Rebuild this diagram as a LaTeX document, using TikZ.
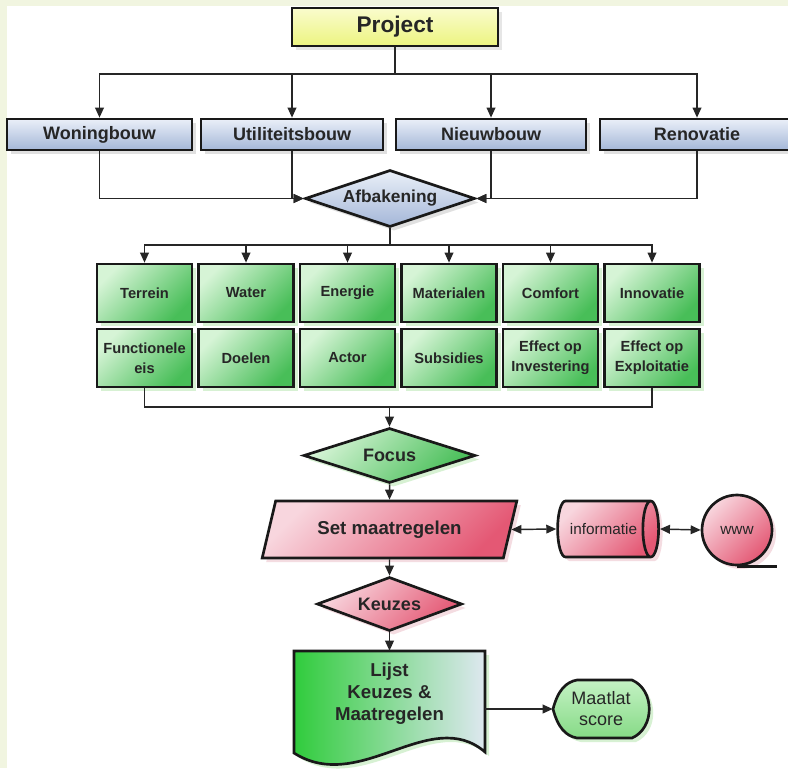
\documentclass[tikz,border=0pt]{standalone}
\usepackage{fontspec}
\setmainfont{Liberation Sans}
\usetikzlibrary{shapes.geometric,arrows.meta,shadows}

\definecolor{band}{RGB}{241,245,224}
\definecolor{projtop}{RGB}{250,252,205}
\definecolor{projbot}{RGB}{236,244,128}
\definecolor{bluetop}{RGB}{234,239,248}
\definecolor{bluebot}{RGB}{164,183,216}
\definecolor{greentop}{RGB}{214,244,214}
\definecolor{greenbot}{RGB}{72,190,88}
\definecolor{greenglow}{RGB}{205,238,200}
\definecolor{pinktop}{RGB}{248,214,222}
\definecolor{pinkbot}{RGB}{228,88,116}
\definecolor{pinkglow}{RGB}{242,212,218}
\definecolor{docgreen}{RGB}{48,204,60}
\definecolor{docpale}{RGB}{222,232,240}
\definecolor{scoretop}{RGB}{196,242,196}
\definecolor{scorebot}{RGB}{134,218,134}

\begin{document}
\begin{tikzpicture}[x=0.75pt, y=-0.75pt,
    box/.style={draw=black!90, line width=2pt, inner sep=0pt, align=center,
      text=black!85, font=\bfseries},
    glow/.style={drop shadow={shadow xshift=3pt, shadow yshift=-3pt,
      fill=#1, opacity=.8}},
    bluebox/.style={box, minimum height=23.25pt, top color=bluetop,
      bottom color=bluebot, glow=black!15,
      font=\bfseries\fontsize{13.5}{16}\selectfont},
    greenbox/.style={box, minimum width=71.25pt, minimum height=43.5pt,
      top color=greentop, bottom color=greenbot, shading angle=45,
      glow=greenglow, font=\bfseries\fontsize{11}{15}\selectfont},
    pinkfill/.style={top color=pinktop, bottom color=pinkbot,
      shading angle=45, glow=pinkglow},
    choice/.style={box, diamond, aspect=3},
    link/.style={line width=1.1pt, black!85},
    arrow/.style={link, -{Triangle[length=7.5pt, width=6.5pt]}},
    twoway/.style={link, {Triangle[length=7.5pt, width=6.5pt]}-{Triangle[length=7.5pt, width=6.5pt]}}
  ]
  \useasboundingbox (0,0) rectangle (788,768);
  \fill[band] (0,0) rectangle (788,768);
  \fill[white] (7,6) rectangle (788,768);

  % top of the tree
  \node[box, minimum width=154.5pt, minimum height=28.5pt, top color=projtop,
    bottom color=projbot, glow=black!12,
    font=\bfseries\fontsize{17}{20}\selectfont] (project) at (395,27) {Project};

  \node[bluebox, minimum width=138.75pt] (woning) at (99.5,134.5) {Woningbouw};
  \node[bluebox, minimum width=136.5pt] (util) at (292,134.5) {Utiliteitsbouw};
  \node[bluebox, minimum width=142.5pt] (nieuw) at (491,134.5) {Nieuwbouw};
  \node[bluebox, minimum width=145.5pt] (renov) at (697,134.5) {Renovatie};

  \node[choice, minimum width=127.5pt, minimum height=42.75pt, top color=bluetop,
    bottom color=bluebot, glow=black!15,
    font=\bfseries\fontsize{13}{15}\selectfont] (afb) at (390,198.5) {Afbakening};

  % themes
  \node[greenbox] (terrein) at (144.5,293) {Terrein};
  \node[greenbox] (water) at (246,293) {Water};
  \node[greenbox] (energie) at (347.5,293) {Energie};
  \node[greenbox] (materialen) at (449,293) {Materialen};
  \node[greenbox] (comfort) at (550.5,293) {Comfort};
  \node[greenbox] (innovatie) at (652,293) {Innovatie};
  \node[greenbox] (functioneel) at (144.5,358) {Functionele\\eis};
  \node[greenbox] (doelen) at (246,358) {Doelen};
  \node[greenbox] (actor) at (347.5,358) {Actor};
  \node[greenbox] (subsidies) at (449,358) {Subsidies};
  \node[greenbox] (investering) at (550.5,358) {Effect op\\Investering};
  \node[greenbox] (exploitatie) at (652,358) {Effect op\\Exploitatie};

  \node[choice, minimum width=129pt, minimum height=41.25pt, top color=greentop,
    bottom color=greenbot, shading angle=45, glow=greenglow,
    font=\bfseries\fontsize{13.5}{16}\selectfont] (focus) at (389.5,455.5) {Focus};

  % measures
  \node[box, trapezium, trapezium left angle=64, trapezium right angle=116,
    trapezium stretches, minimum width=191.25pt, minimum height=42.75pt, pinkfill,
    font=\bfseries\fontsize{14}{16}\selectfont] (set) at (389.5,529.5) {Set maatregelen};
  \node[box, cylinder, shape aspect=1.4, minimum width=42pt, minimum height=75.75pt,
    pinkfill, font=\fontsize{11.5}{14}\selectfont] (info) at (603.5,529) {informatie};
  \node[box, circle, minimum size=52.5pt, pinkfill,
    font=\fontsize{11.5}{14}\selectfont] (www) at (737,530) {www};
  \coordinate (tape) at (777,565);

  \node[choice, minimum width=108.75pt, minimum height=40.5pt, pinkfill,
    font=\bfseries\fontsize{13.5}{16}\selectfont] (keuzes) at (389.5,604) {Keuzes};

  % list and score
  \draw[line width=2pt, draw=black!90, left color=docgreen, right color=docpale,
    glow=greenglow] (294,651) -- (485,651) -- (485,752)
    .. controls (430,705) and (360,795) .. (294,753) -- cycle;
  \node[align=center, text=black!85, minimum width=143.25pt, minimum height=64.5pt,
    font=\bfseries\fontsize{14}{16.5}\selectfont] (lijst) at (389.5,694)
    {Lijst\\Keuzes \&\\Maatregelen};

  \draw[line width=2pt, draw=black!90, top color=scoretop, bottom color=scorebot,
    glow=greenglow] (553,709) .. controls (558,690) and (566,682) .. (577,680)
    -- (632,680) .. controls (655,690) and (655,728) .. (632,738)
    -- (577,738) .. controls (566,736) and (558,728) .. (553,709) -- cycle;
  \node[align=center, text=black!85, minimum width=72pt, minimum height=43.5pt,
    inner sep=0pt, font=\fontsize{13.5}{15.75}\selectfont] (score) at (601,709)
    {Maatlat\\score};

  % connectors
  \coordinate (split) at (395,74);
  \draw[link] (project) -- (split);
  \draw[arrow] (split) -| (woning.north);
  \draw[arrow] (split) -| (util.north);
  \draw[arrow] (split) -| (nieuw.north);
  \draw[arrow] (split) -| (renov.north);

  \draw[arrow] (woning.south) |- (afb.west);
  \draw[arrow] (util.south) |- (afb.west);
  \draw[arrow] (nieuw.south) |- (afb.east);
  \draw[arrow] (renov.south) |- (afb.east);

  \coordinate (fan) at (390,245);
  \draw[link] (afb.south) -- (fan);
  \draw[arrow] (fan) -| (terrein.north);
  \draw[arrow] (fan) -| (water.north);
  \draw[arrow] (fan) -| (energie.north);
  \draw[arrow] (fan) -| (materialen.north);
  \draw[arrow] (fan) -| (comfort.north);
  \draw[arrow] (fan) -| (innovatie.north);

  \coordinate (merge) at (389.5,407);
  \draw[link] (functioneel.south) |- (merge);
  \draw[link] (exploitatie.south) |- (merge);
  \draw[arrow] (merge) -- (focus.north);

  \draw[arrow] (focus) -- (set);
  \draw[twoway] (set.east) -- (info.west);
  \draw[twoway] (info.east) -- (www.west);
  \draw[line width=2pt, black!90] (www.south) -- (www.south -| tape);
  \draw[arrow] (set) -- (keuzes);
  \draw[arrow] (keuzes) -- (lijst);
  \draw[arrow] (lijst.east |- score.west) -- (score.west);
\end{tikzpicture}
\end{document}
